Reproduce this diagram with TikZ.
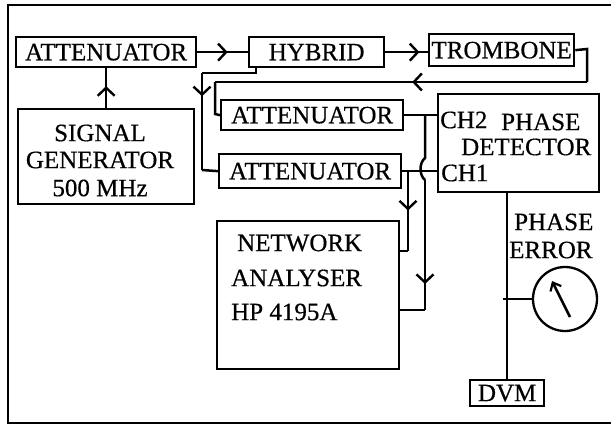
\documentclass[tikz,border=0pt]{standalone}
\usepackage{fontspec}
\setmainfont[FakeBold=0.5]{Liberation Serif}
\usetikzlibrary{arrows.meta,decorations.markings}
\tikzset{
  box/.style={draw, line width=2.3pt, inner sep=0pt, anchor=north west, font=\fontsize{25}{29}\selectfont},
  lbl/.style={inner sep=0pt, font=\fontsize{25}{29}\selectfont},
  wire/.style={line width=2.5pt},
  midarrow/.style={postaction={decorate}, decoration={markings, mark=at position #1 with {\arrow{Straight Barb[length=8pt,width=17pt,line width=2.4pt]}}}},
}
\begin{document}
\begin{tikzpicture}[x=1pt,y=-1pt]
\useasboundingbox (0,0) rectangle (611,426);
% outer frame (right side cut off)
\draw[line width=2.5pt] (611,5) -- (8,5) -- (8,423) -- (611,423);

% boxes
\node[box, minimum width=180pt, minimum height=30pt] (att1) at (15,36) {ATTENUATOR};
\node[box, minimum width=176pt, minimum height=95pt] (gen) at (17,108) {};
\node[box, minimum width=135pt, minimum height=30pt] (hyb) at (248,36) {HYBRID};
\node[box, minimum width=145pt, minimum height=32pt] (trom) at (428,33) {TROMBONE};
\node[box, minimum width=182pt, minimum height=30pt] (att2) at (220,99) {ATTENUATOR};
\node[box, minimum width=182pt, minimum height=34pt] (att3) at (218,153) {ATTENUATOR};
\node[box, minimum width=161pt, minimum height=98pt] (pd) at (437,93) {};
\node[box, minimum width=182pt, minimum height=148pt] (na) at (216,220) {};
\node[box, minimum width=74pt, minimum height=26pt] (dvm) at (469,379) {DVM};
\node[draw, circle, line width=2.3pt, minimum size=64pt, inner sep=0pt] (meter) at (565,299) {};

% texts
\node[lbl] (g1) at (100,133) {SIGNAL};
\node[lbl] (g2) at (100,160) {GENERATOR};
\node[lbl] (g3) at (100,188) {500 MHz};
\node[lbl, anchor=west] (n1) at (237,243) {NETWORK};
\node[lbl, anchor=west] (n2) at (231,278) {ANALYSER};
\node[lbl, anchor=west] (n3) at (231,312) {HP 4195A};
\node[lbl, anchor=west] (ch2) at (440,120) {CH2};
\node[lbl, anchor=west] (p1) at (501,122) {PHASE};
\node[lbl, anchor=west] (p2) at (461,147) {DETECTOR};
\node[lbl, anchor=west] (ch1) at (441,173) {CH1};
\node[lbl, anchor=west] (e1) at (514,222) {PHASE};
\node[lbl, anchor=west] (e2) at (509,250) {ERROR};

% junction coordinates
\coordinate (t1) at (587,49);
\coordinate (t2) at (587,82);
\coordinate (t3) at (215,82);
\coordinate (t4) at (215,114);
\coordinate (h1) at (256,66);
\coordinate (h2) at (256,73);
\coordinate (h3) at (202,73);
\coordinate (h4) at (202,170);
\coordinate (a1) at (408,170);
\coordinate (a2) at (408,251);
\coordinate (b1) at (425,114);
\coordinate (b2) at (425,158);
\coordinate (b3) at (425,180);
\coordinate (b4) at (425,310);
\coordinate (m1) at (503,299);
\coordinate (nd1) at (570,317);
\coordinate (nd2) at (552,281);

% connectors
\draw[wire, midarrow=0.55] (gen.north) -- (gen.north |- att1.south);
\draw[wire, midarrow=0.6] (att1.east) -- (att1.east -| hyb.west);
\draw[wire, midarrow=0.8] (hyb.east) -- (hyb.east -| trom.west);
\draw[wire] (trom.east) -- (t1) -- (t2);
\draw[wire, midarrow=0.47] (t2) -- (t3);
\draw[wire] (t3) -- (t4) -- (att2.west);
\draw[wire] (h1) -- (h2) -- (h3);
\draw[wire, midarrow=0.24] (h3) -- (h4);
\draw[wire] (h4) -- (att3.west);
\draw[wire] (att2.east) -- (att2.east -| pd.west);
\draw[wire] (att3.east) -- (att3.east -| pd.west);
\draw[wire, midarrow=0.5] (a1) -- (a2);
\draw[wire] (a2) -- (a2 -| na.east);
\draw[wire] (b1) -- (b2) .. controls (419,163) and (419,175) .. (b3);
\draw[wire, midarrow=0.8] (b3) -- (b4);
\draw[wire] (b4) -- (b4 -| na.east);
\draw[wire] (pd.south -| dvm.north) -- (dvm.north);
\draw[wire] (m1) -- (meter.west);
\draw[wire, -{Straight Barb[length=7pt,width=12pt,line width=2.2pt]}] (nd1) -- (nd2);
\end{tikzpicture}
\end{document}
